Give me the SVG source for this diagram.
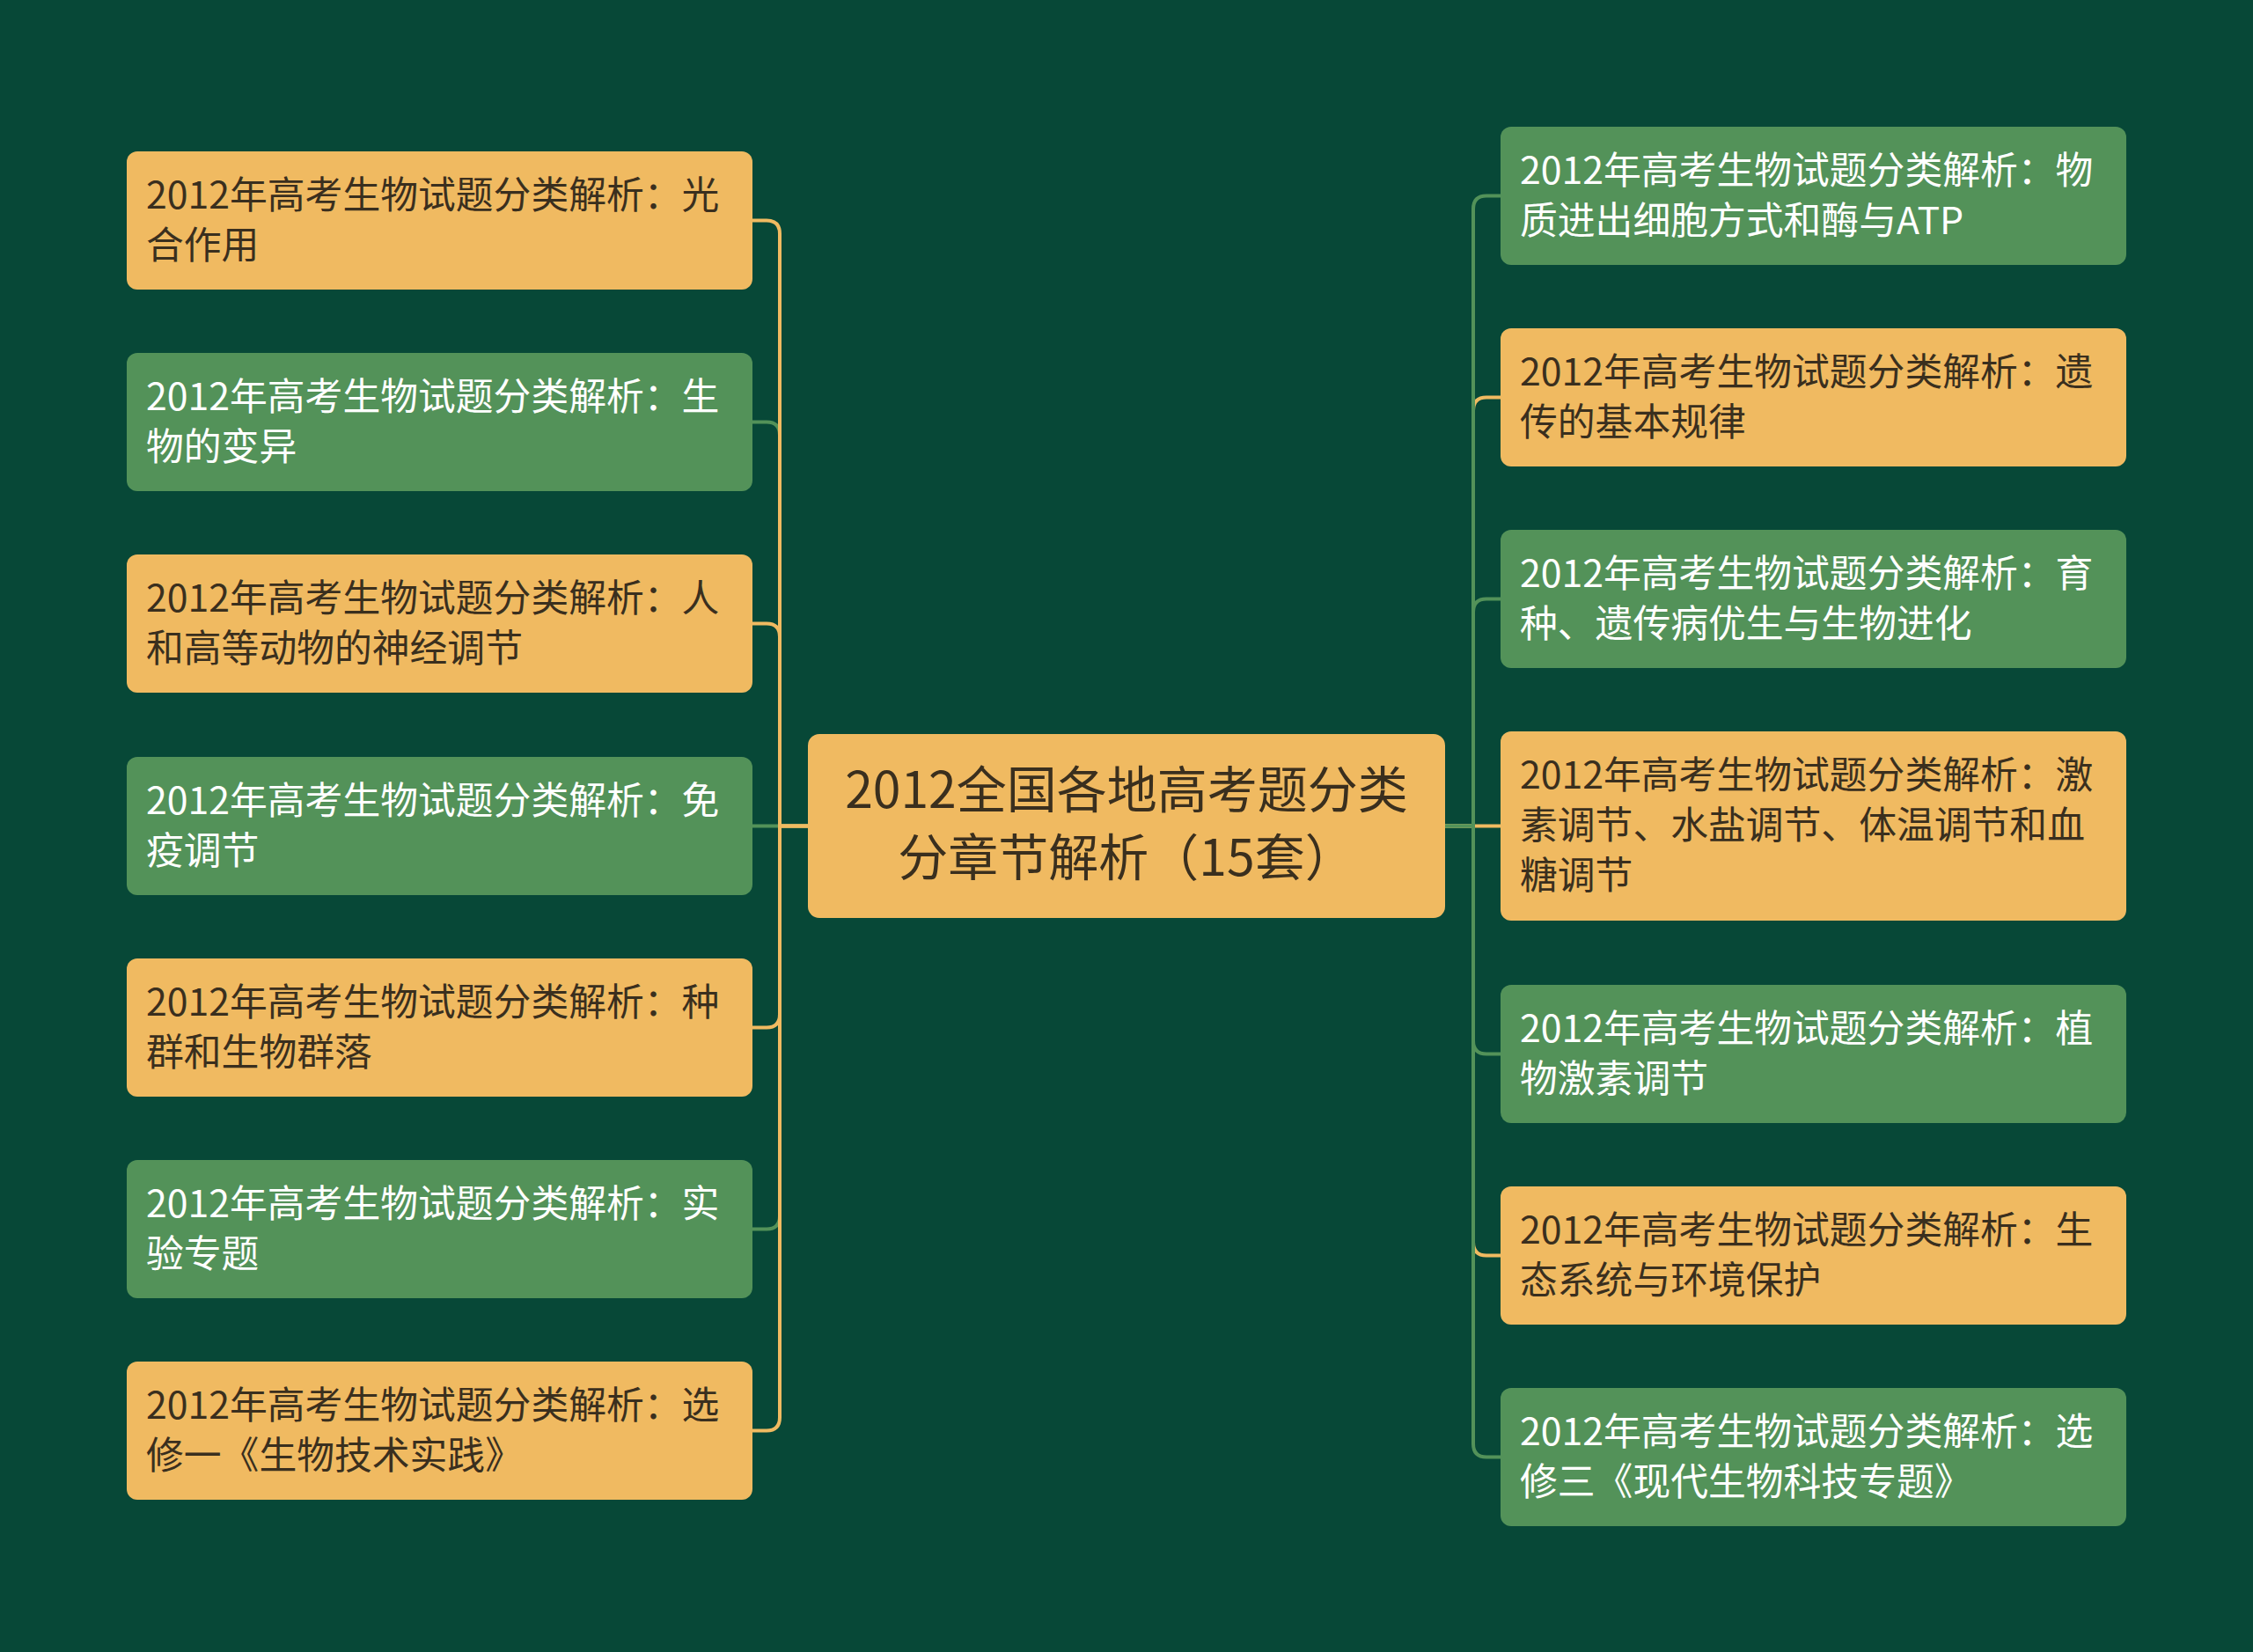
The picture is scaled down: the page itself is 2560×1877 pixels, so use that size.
<svg xmlns="http://www.w3.org/2000/svg" width="2560" height="1877" viewBox="0 0 2560 1877">
<style>
.bg{fill:#074837}
.o{fill:#F0BA61}
.g{fill:#539259}
.t{font-family:"Noto Sans CJK SC","Noto Sans",sans-serif;font-size:42.8px}
.to{fill:#3A2F1E}
.tg{fill:#FFFFFF}
.c{font-family:"Noto Sans CJK SC","Noto Sans",sans-serif;font-size:57px;fill:#3A2F1E;text-anchor:middle}
.lo{fill:none;stroke:#F0BA61;stroke-width:4}
.lg{fill:none;stroke:#539259;stroke-width:4}
</style>
<rect class="bg" x="0" y="0" width="2560" height="1877"/>
<g id="connectors">
<path class="lg" d="M918 938.5 H855"/>
<path class="lo" d="M918 938.5 H886 V723.5 Q886 708.5 871 708.5 H855"/>
<path class="lo" d="M918 938.5 H886 V1152.5 Q886 1167.5 871 1167.5 H855"/>
<path class="lg" d="M918 938.5 H886 V494.5 Q886 479.5 871 479.5 H855"/>
<path class="lg" d="M918 938.5 H886 V1381.5 Q886 1396.5 871 1396.5 H855"/>
<path class="lo" d="M918 938.5 H886 V265.5 Q886 250.5 871 250.5 H855"/>
<path class="lo" d="M918 938.5 H886 V1610.5 Q886 1625.5 871 1625.5 H855"/>
<path class="lo" d="M1642 938.5 H1705"/>
<path class="lg" d="M1642 938.5 H1674 V695.5 Q1674 680.5 1689 680.5 H1705"/>
<path class="lg" d="M1642 938.5 H1674 V1182.5 Q1674 1197.5 1689 1197.5 H1705"/>
<path class="lo" d="M1642 938.5 H1674 V466.5 Q1674 451.5 1689 451.5 H1705"/>
<path class="lo" d="M1642 938.5 H1674 V1411.5 Q1674 1426.5 1689 1426.5 H1705"/>
<path class="lg" d="M1642 938.5 H1674 V237.5 Q1674 222.5 1689 222.5 H1705"/>
<path class="lg" d="M1642 938.5 H1674 V1640.5 Q1674 1655.5 1689 1655.5 H1705"/>
</g>
<g id="center">
<rect class="o" x="918" y="834" width="724" height="209" rx="13"/>
<text class="c" x="1280" y="918">2012全国各地高考题分类</text>
<text class="c" x="1280" y="995">分章节解析（15套）</text>
</g>
<g id="L1">
<rect class="o" x="144" y="172" width="711" height="157" rx="12"/>
<text class="t to" x="166"><tspan x="166" y="237">2012年高考生物试题分类解析：光</tspan><tspan x="166" y="294">合作用</tspan></text>
</g>
<g id="L2">
<rect class="g" x="144" y="401" width="711" height="157" rx="12"/>
<text class="t tg" x="166"><tspan x="166" y="466">2012年高考生物试题分类解析：生</tspan><tspan x="166" y="523">物的变异</tspan></text>
</g>
<g id="L3">
<rect class="o" x="144" y="630" width="711" height="157" rx="12"/>
<text class="t to" x="166"><tspan x="166" y="695">2012年高考生物试题分类解析：人</tspan><tspan x="166" y="752">和高等动物的神经调节</tspan></text>
</g>
<g id="L4">
<rect class="g" x="144" y="860" width="711" height="157" rx="12"/>
<text class="t tg" x="166"><tspan x="166" y="925">2012年高考生物试题分类解析：免</tspan><tspan x="166" y="982">疫调节</tspan></text>
</g>
<g id="L5">
<rect class="o" x="144" y="1089" width="711" height="157" rx="12"/>
<text class="t to" x="166"><tspan x="166" y="1154">2012年高考生物试题分类解析：种</tspan><tspan x="166" y="1211">群和生物群落</tspan></text>
</g>
<g id="L6">
<rect class="g" x="144" y="1318" width="711" height="157" rx="12"/>
<text class="t tg" x="166"><tspan x="166" y="1383">2012年高考生物试题分类解析：实</tspan><tspan x="166" y="1440">验专题</tspan></text>
</g>
<g id="L7">
<rect class="o" x="144" y="1547" width="711" height="157" rx="12"/>
<text class="t to" x="166"><tspan x="166" y="1612">2012年高考生物试题分类解析：选</tspan><tspan x="166" y="1669">修一《生物技术实践》</tspan></text>
</g>
<g id="R1">
<rect class="g" x="1705" y="144" width="711" height="157" rx="12"/>
<text class="t tg" x="1727"><tspan x="1727" y="209">2012年高考生物试题分类解析：物</tspan><tspan x="1727" y="266">质进出细胞方式和酶与ATP</tspan></text>
</g>
<g id="R2">
<rect class="o" x="1705" y="373" width="711" height="157" rx="12"/>
<text class="t to" x="1727"><tspan x="1727" y="438">2012年高考生物试题分类解析：遗</tspan><tspan x="1727" y="495">传的基本规律</tspan></text>
</g>
<g id="R3">
<rect class="g" x="1705" y="602" width="711" height="157" rx="12"/>
<text class="t tg" x="1727"><tspan x="1727" y="667">2012年高考生物试题分类解析：育</tspan><tspan x="1727" y="724">种、遗传病优生与生物进化</tspan></text>
</g>
<g id="R4">
<rect class="o" x="1705" y="831" width="711" height="215" rx="12"/>
<text class="t to" x="1727"><tspan x="1727" y="896">2012年高考生物试题分类解析：激</tspan><tspan x="1727" y="953">素调节、水盐调节、体温调节和血</tspan><tspan x="1727" y="1010">糖调节</tspan></text>
</g>
<g id="R5">
<rect class="g" x="1705" y="1119" width="711" height="157" rx="12"/>
<text class="t tg" x="1727"><tspan x="1727" y="1184">2012年高考生物试题分类解析：植</tspan><tspan x="1727" y="1241">物激素调节</tspan></text>
</g>
<g id="R6">
<rect class="o" x="1705" y="1348" width="711" height="157" rx="12"/>
<text class="t to" x="1727"><tspan x="1727" y="1413">2012年高考生物试题分类解析：生</tspan><tspan x="1727" y="1470">态系统与环境保护</tspan></text>
</g>
<g id="R7">
<rect class="g" x="1705" y="1577" width="711" height="157" rx="12"/>
<text class="t tg" x="1727"><tspan x="1727" y="1642">2012年高考生物试题分类解析：选</tspan><tspan x="1727" y="1699">修三《现代生物科技专题》</tspan></text>
</g>
</svg>
